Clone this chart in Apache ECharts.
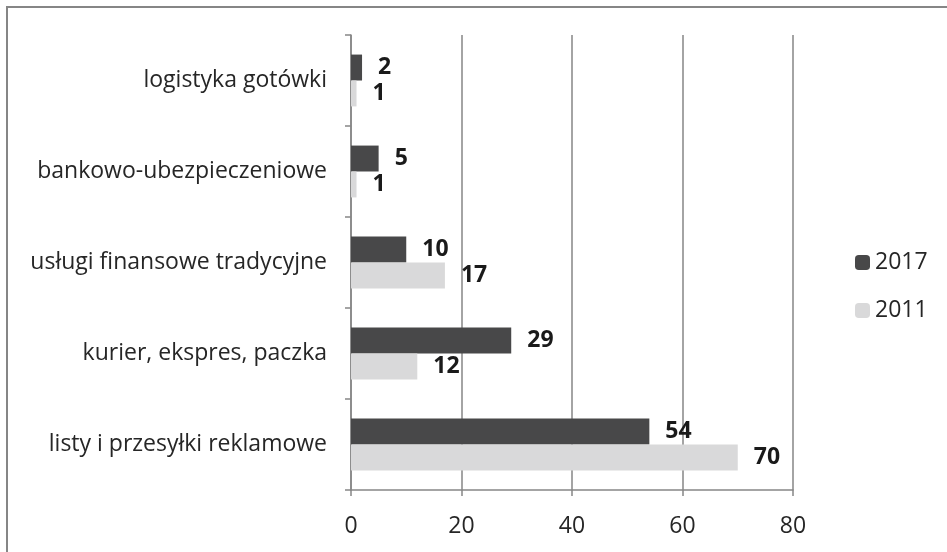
<!DOCTYPE html>
<html>
<head>
<meta charset="utf-8">
<script src="https://cdn.jsdelivr.net/npm/echarts@6/dist/echarts.min.js"></script>
<style>
  html, body { margin: 0; padding: 0; background: #fff; }
  #chart { width: 947px; height: 552px; }
</style>
</head>
<body>
<div id="chart"></div>
<script>
// categories, bottom to top
var categories = ['listy i przesyłki reklamowe', 'kurier, ekspres, paczka', 'usługi finansowe tradycyjne', 'bankowo-ubezpieczeniowe', 'logistyka gotówki'];
var values2017 = [54, 29, 10, 5, 2];
var values2011 = [70, 12, 17, 1, 1];
var seriesNames = ['2017', '2011'];

var chart = echarts.init(document.getElementById('chart'));
var gray = '#868686';
var textColor = '#262626';
var font = 'Open Sans';

var labelStyle = {
  show: true,
  position: 'right',
  distance: 16,
  fontFamily: font,
  fontWeight: 'bold',
  fontSize: 23,
  color: '#1a1a1a'
};

var option = {
  animation: false,
  // outer frame (only top and left edges show)
  graphic: [{
    type: 'rect',
    shape: { x: 7, y: 7, width: 1000, height: 1000 },
    style: { fill: 'none', stroke: gray, lineWidth: 2 }
  }],
  legend: {
    orient: 'vertical',
    left: 850,
    top: 246,
    itemWidth: 15,
    itemHeight: 15,
    itemGap: 25,
    data: seriesNames,
    textStyle: { fontFamily: font, fontSize: 23, color: textColor }
  },
  grid: { left: 351, right: 154, top: 35, bottom: 62 },
  xAxis: {
    type: 'value',
    min: 0,
    max: 80,
    interval: 20,
    axisLine: { show: true, lineStyle: { color: gray, width: 1.5 } },
    axisTick: { show: true, length: 6, lineStyle: { color: gray, width: 1.5 } },
    splitLine: { show: true, lineStyle: { color: gray, width: 1.5 } },
    axisLabel: { margin: 25, fontFamily: font, fontSize: 23, color: textColor }
  },
  yAxis: {
    type: 'category',
    data: categories,
    axisLine: { show: true, lineStyle: { color: gray, width: 1.5 } },
    axisTick: { show: true, length: 6, lineStyle: { color: gray, width: 1.5 } },
    axisLabel: { margin: 24, fontFamily: font, fontSize: 23, color: textColor }
  },
  series: [
    {
      name: '2017',
      type: 'bar',
      data: values2017,
      barGap: '0%',
      barCategoryGap: '43%',
      itemStyle: { color: '#484849' },
      label: labelStyle
    },
    {
      name: '2011',
      type: 'bar',
      data: values2011,
      barGap: '0%',
      barCategoryGap: '43%',
      itemStyle: { color: '#d9d9da' },
      label: labelStyle
    }
  ]
};
chart.setOption(option);
</script>
</body>
</html>
